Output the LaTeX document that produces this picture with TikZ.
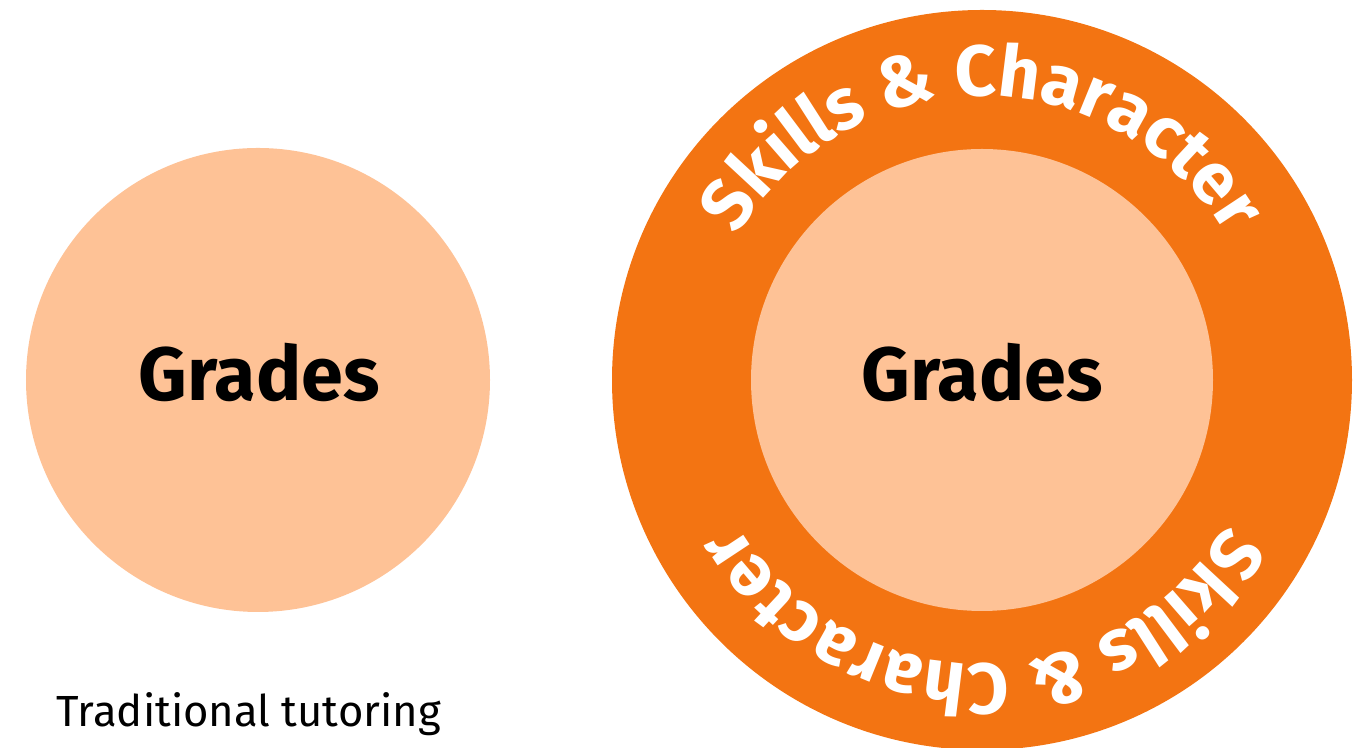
\documentclass[tikz,border=0pt]{standalone}
\usepackage{fontspec}
\setmainfont{Fira Sans}
\usetikzlibrary{decorations.text}

\definecolor{ringorange}{RGB}{243,116,18}
\definecolor{peach}{RGB}{254,194,150}

\newcommand{\gradefont}{\fontsize{21.5}{25}\selectfont\bfseries}
\newcommand{\ringfont}{\fontsize{20.5}{25}\selectfont\bfseries}

\tikzset{
  gradelabel/.style={font=\gradefont, text=black, inner sep=0pt},
  ringtext/.style={decorate, decoration={text along path, text align=center,
      text color=white, text={|\ringfont|Skills {\&} Character}}}
}

\begin{document}
\begin{tikzpicture}
\useasboundingbox (0,0) rectangle (13.53,7.48);

% left one
\fill[peach] (2.58,3.68) circle (2.32cm);
\node[gradelabel] (gradesleft) at (2.59,3.76) {Grades};
\node[anchor=base west, font=\fontsize{12.4}{15}\selectfont, inner sep=0pt] (tradlabel) at (0.56,0.21) {Traditional tutoring};

% right one
\fill[ringorange] (9.82,3.68) circle (3.70cm);
\fill[peach] (9.82,3.68) circle (2.31cm);
\node[gradelabel] (gradesright) at (9.82,3.76) {Grades};

\path[ringtext] (9.82,3.68) ++(180:2.84) arc (180:0:2.84);
\path[ringtext] (9.82,3.68) ++(0:2.84) arc (0:-180:2.84);
\end{tikzpicture}
\end{document}
